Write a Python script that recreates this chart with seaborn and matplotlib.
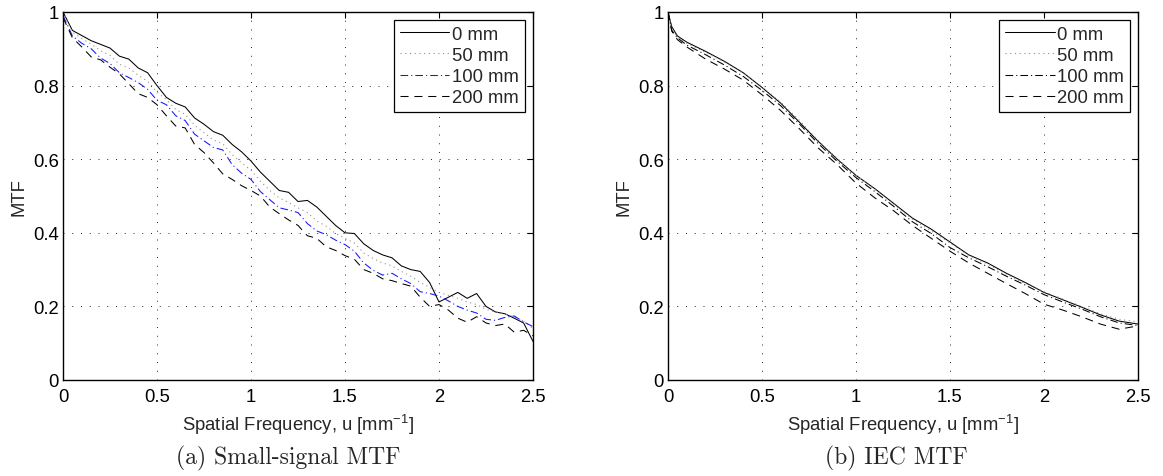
import matplotlib
matplotlib.use("Agg")
import matplotlib.pyplot as plt
import pandas as pd
import seaborn as sns

# ---- data ----
series_labels = ["0 mm", "50 mm", "100 mm", "200 mm"]

freq_small = [0.00, 0.05, 0.10, 0.15, 0.20, 0.25, 0.30, 0.35, 0.40, 0.45,
              0.50, 0.55, 0.60, 0.65, 0.70, 0.75, 0.80, 0.85, 0.90, 0.95,
              1.00, 1.05, 1.10, 1.15, 1.20, 1.25, 1.30, 1.35, 1.40, 1.45,
              1.50, 1.55, 1.60, 1.65, 1.70, 1.75, 1.80, 1.85, 1.90, 1.95,
              2.00, 2.05, 2.10, 2.15, 2.20, 2.25, 2.30, 2.35, 2.40, 2.45, 2.50]

small_0mm = [1.000, 0.950, 0.936, 0.922, 0.912, 0.902, 0.880, 0.872, 0.848, 0.835,
             0.800, 0.768, 0.752, 0.742, 0.712, 0.695, 0.675, 0.665, 0.640, 0.620,
             0.595, 0.565, 0.540, 0.515, 0.510, 0.485, 0.488, 0.470, 0.445, 0.420,
             0.400, 0.398, 0.370, 0.352, 0.340, 0.332, 0.310, 0.300, 0.295, 0.265,
             0.212, 0.225, 0.238, 0.222, 0.235, 0.200, 0.185, 0.180, 0.168, 0.155, 0.105]
small_50mm = [1.000, 0.945, 0.928, 0.912, 0.895, 0.882, 0.858, 0.848, 0.828, 0.812,
              0.782, 0.762, 0.735, 0.722, 0.692, 0.672, 0.652, 0.642, 0.612, 0.590,
              0.570, 0.540, 0.515, 0.495, 0.482, 0.468, 0.455, 0.432, 0.418, 0.398,
              0.385, 0.372, 0.345, 0.330, 0.318, 0.310, 0.295, 0.282, 0.265, 0.252,
              0.238, 0.230, 0.222, 0.212, 0.205, 0.192, 0.185, 0.180, 0.172, 0.160, 0.140]
small_100mm = [0.990, 0.935, 0.915, 0.900, 0.875, 0.860, 0.835, 0.822, 0.808, 0.790,
               0.760, 0.748, 0.718, 0.705, 0.668, 0.650, 0.632, 0.625, 0.585, 0.562,
               0.545, 0.512, 0.490, 0.468, 0.462, 0.455, 0.425, 0.405, 0.395, 0.380,
               0.368, 0.350, 0.318, 0.298, 0.285, 0.290, 0.275, 0.262, 0.240, 0.235,
               0.228, 0.215, 0.200, 0.190, 0.182, 0.165, 0.162, 0.170, 0.174, 0.158, 0.145]
small_200mm = [0.985, 0.930, 0.905, 0.878, 0.870, 0.850, 0.832, 0.805, 0.778, 0.768,
               0.748, 0.718, 0.690, 0.685, 0.640, 0.618, 0.590, 0.560, 0.545, 0.528,
               0.515, 0.500, 0.470, 0.452, 0.435, 0.420, 0.392, 0.385, 0.362, 0.352,
               0.338, 0.328, 0.300, 0.290, 0.275, 0.270, 0.262, 0.255, 0.225, 0.200,
               0.205, 0.190, 0.168, 0.157, 0.172, 0.155, 0.148, 0.152, 0.130, 0.135, 0.120]

freq_iec = [0.00, 0.02, 0.05, 0.10, 0.20, 0.30, 0.40, 0.50, 0.60, 0.70,
            0.80, 0.90, 1.00, 1.10, 1.20, 1.30, 1.40, 1.50, 1.60, 1.70,
            1.80, 1.90, 2.00, 2.10, 2.20, 2.30, 2.40, 2.50]

iec_0mm = [1.000, 0.960, 0.935, 0.918, 0.893, 0.866, 0.835, 0.795, 0.752, 0.700,
           0.648, 0.600, 0.556, 0.520, 0.480, 0.440, 0.410, 0.375, 0.340, 0.318,
           0.290, 0.265, 0.238, 0.218, 0.198, 0.177, 0.160, 0.152]
iec_50mm = [1.000, 0.955, 0.932, 0.915, 0.890, 0.864, 0.834, 0.797, 0.755, 0.705,
            0.650, 0.602, 0.557, 0.518, 0.478, 0.437, 0.405, 0.372, 0.338, 0.315,
            0.287, 0.262, 0.240, 0.220, 0.200, 0.180, 0.165, 0.158]
iec_100mm = [1.000, 0.950, 0.930, 0.910, 0.884, 0.856, 0.825, 0.787, 0.745, 0.695,
             0.642, 0.594, 0.550, 0.512, 0.472, 0.430, 0.398, 0.360, 0.332, 0.308,
             0.282, 0.258, 0.232, 0.212, 0.193, 0.172, 0.155, 0.148]
iec_200mm = [1.000, 0.948, 0.925, 0.905, 0.872, 0.845, 0.815, 0.775, 0.732, 0.682,
             0.630, 0.585, 0.535, 0.495, 0.460, 0.420, 0.385, 0.350, 0.318, 0.290,
             0.262, 0.235, 0.206, 0.190, 0.172, 0.152, 0.138, 0.147]

x_ticks = [0, 0.5, 1, 1.5, 2, 2.5]
x_tick_labels = ["0", "0.5", "1", "1.5", "2", "2.5"]
y_ticks = [0, 0.2, 0.4, 0.6, 0.8, 1]
y_tick_labels = ["0", "0.2", "0.4", "0.6", "0.8", "1"]

# ---- styling ----
sns.set_style("white")
plt.rcParams["font.family"] = ["Liberation Sans", "DejaVu Sans"]
plt.rcParams["mathtext.default"] = "regular"
plt.rcParams["lines.scale_dashes"] = False

FS = 13.3
STYLES = {
    "0 mm": dict(color="black", dashes=None),
    "50 mm": dict(color="#8c8c8c", dashes=(0.8, 2.6)),
    "100 mm": dict(color="#1414ff", dashes=(5.5, 2.2, 0.8, 2.2)),
    "200 mm": dict(color="black", dashes=(5.8, 4.2)),
}


def draw_panel(ax, freq, curves, dashdot_color):
    for label, values in zip(series_labels, curves):
        st = STYLES[label]
        color = dashdot_color if label == "100 mm" else st["color"]
        df = pd.DataFrame({"u": freq, "mtf": values})
        sns.lineplot(data=df, x="u", y="mtf", ax=ax, color=color, lw=0.75,
                     label=label, sort=False, estimator=None)
        line = ax.get_lines()[-1]
        if st["dashes"] is not None:
            line.set_dashes(st["dashes"])

    ax.set_xlim(0, 2.5)
    ax.set_ylim(0, 1)
    ax.set_xticks(x_ticks)
    ax.set_xticklabels(x_tick_labels)
    ax.set_yticks(y_ticks)
    ax.set_yticklabels(y_tick_labels)
    ax.tick_params(direction="in", top=True, right=True, length=4, width=0.8,
                   labelsize=FS, colors="black")
    ax.tick_params(axis="x", pad=6)
    ax.tick_params(axis="y", pad=3)
    ax.grid(True, color="black", lw=0.6, linestyle=(0, (0.7, 5.6)))
    for sp in ax.spines.values():
        sp.set_color("black")
        sp.set_linewidth(1.0)
    ax.set_xlabel("Spatial Frequency, u [mm$^{-1}$]", fontsize=FS, labelpad=5)
    ax.set_ylabel("MTF", fontsize=FS, labelpad=4)

    leg = ax.legend(loc="upper right", fontsize=FS, handlelength=2.7,
                    handletextpad=0.15, labelspacing=0.22, borderpad=0.3,
                    borderaxespad=0.45, fancybox=False, framealpha=1)
    leg.get_frame().set_edgecolor("black")
    leg.get_frame().set_linewidth(0.9)


fig = plt.figure(figsize=(11.63, 4.77), dpi=100)
ax1 = fig.add_axes([63 / 1163, 96 / 477, 470 / 1163, 368 / 477])
ax2 = fig.add_axes([668 / 1163, 96 / 477, 470 / 1163, 368 / 477])

draw_panel(ax1, freq_small, [small_0mm, small_50mm, small_100mm, small_200mm], "#1414ff")
draw_panel(ax2, freq_iec, [iec_0mm, iec_50mm, iec_100mm, iec_200mm], "black")

fig.text(288 / 1163, 19 / 477, "(a) Small-signal MTF", family="cmr10",
         fontsize=17, ha="center", va="center")
fig.text(896 / 1163, 19 / 477, "(b) IEC MTF", family="cmr10",
         fontsize=17, ha="center", va="center")

fig.savefig("out.png", dpi=100)
plt.close(fig)
